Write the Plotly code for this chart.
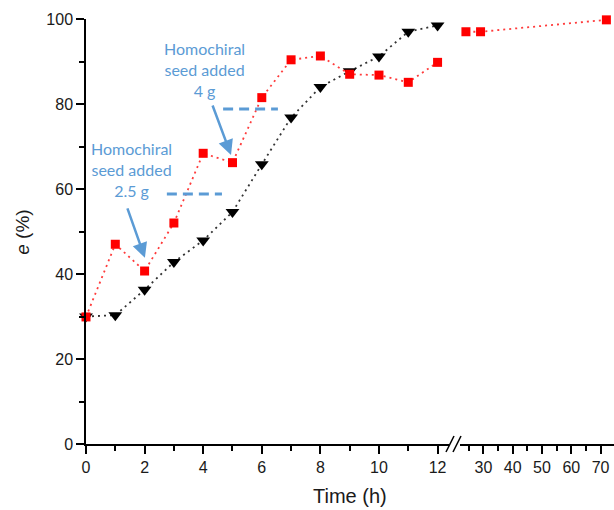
import plotly.graph_objects as go

# ---- data ----
time_short = [0, 1, 2, 3, 4, 5, 6, 7, 8, 9, 10, 11, 12]
black_e = [30.0, 30.3, 36.3, 42.8, 47.9, 54.6, 65.8, 76.8, 84.0, 87.7, 91.2, 97.0, 98.5]

red_time = [0, 1, 2, 3, 4, 5, 6, 7, 8, 9, 10, 11, 12, 24, 29, 72]
red_e = [29.9, 47.0, 40.7, 52.0, 68.4, 66.2, 81.5, 90.4, 91.3, 87.0, 86.8, 85.1, 89.8, 97.0, 97.0, 99.8]

x1_ticks = [0, 2, 4, 6, 8, 10, 12]
x2_ticks = [30, 40, 50, 60, 70]
y_ticks = [0, 20, 40, 60, 80, 100]

BREAK_T = 12  # last point on the first axis segment

BLUE = "#5B9BD5"
AX_FAMILY = "Liberation Sans"
AX_FONT = dict(family=AX_FAMILY, size=16, color="#1a1a1a")
ANN_FONT = dict(family="Lato", size=16, color=BLUE)

# split red series between the two axis segments
red_t1 = [t for t in red_time if t <= BREAK_T]
red_e1 = [e for t, e in zip(red_time, red_e) if t <= BREAK_T]
# second segment carries the last point before the break so the joining line shows
idx_last = max(i for i, t in enumerate(red_time) if t <= BREAK_T)
red_t2 = red_time[idx_last:]
red_e2 = red_e[idx_last:]

fig = go.Figure()

line_red = dict(color="#ff3b3b", width=1.8, dash="2px,4px")
line_blk = dict(color="#333333", width=1.8, dash="2px,4px")

fig.add_trace(go.Scatter(x=time_short, y=black_e, mode="lines+markers",
                         line=line_blk,
                         marker=dict(symbol="triangle-down", size=12, color="black"),
                         xaxis="x", yaxis="y", cliponaxis=False, showlegend=False))
fig.add_trace(go.Scatter(x=red_t1, y=red_e1, mode="lines+markers",
                         line=line_red,
                         marker=dict(symbol="square", size=9, color="#ff0000"),
                         xaxis="x", yaxis="y", cliponaxis=False, showlegend=False))
# second segment: line includes the joining point, markers only for t > break
fig.add_trace(go.Scatter(x=red_t2, y=red_e2, mode="lines",
                         line=line_red, xaxis="x2", yaxis="y", showlegend=False))
fig.add_trace(go.Scatter(x=red_t2[1:], y=red_e2[1:], mode="markers",
                         marker=dict(symbol="square", size=9, color="#ff0000"),
                         xaxis="x2", yaxis="y", cliponaxis=False, showlegend=False))

axis_common = dict(showgrid=False, zeroline=False, showline=True, linecolor="black",
                   linewidth=1.5, ticks="outside", ticklen=8, tickwidth=1.5,
                   tickcolor="black", tickfont=AX_FONT, automargin=False)

fig.update_layout(
    width=614, height=510,
    margin=dict(l=86, r=0, t=19, b=66),
    paper_bgcolor="white", plot_bgcolor="white",
    xaxis=dict(domain=[0, 0.6875], range=[0, 12.39], tickmode="linear", tick0=0, dtick=2,
               minor=dict(dtick=1, ticks="outside", ticklen=5, tickwidth=1.5, tickcolor="black"),
               anchor="y", **axis_common),
    xaxis2=dict(domain=[0.7083, 1], range=[21.97, 74.6], tickmode="linear", tick0=0, dtick=10,
                minor=dict(dtick=5, ticks="outside", ticklen=5, tickwidth=1.5, tickcolor="black"),
                anchor="y", **axis_common),
    yaxis=dict(range=[0, 100], tickmode="linear", tick0=0, dtick=20,
               minor=dict(dtick=10, ticks="outside", ticklen=5, tickwidth=1.5, tickcolor="black"),
               anchor="x", **axis_common),
)

# axis titles
fig.add_annotation(text="Time (h)", xref="paper", yref="paper", x=0.5, y=-0.1224,
                   xanchor="center", yanchor="middle", showarrow=False,
                   font=dict(family=AX_FAMILY, size=20, color="#1a1a1a"))
fig.add_annotation(text="<i>e</i> (%)", xref="paper", yref="paper", x=-0.1193, y=0.497,
                   xanchor="center", yanchor="middle", showarrow=False, textangle=-90,
                   font=dict(family=AX_FAMILY, size=19, color="#1a1a1a"))

# axis break marks
for x0, x1 in [(0.6818, 0.6970), (0.6951, 0.7102)]:
    fig.add_shape(type="line", xref="paper", yref="paper", x0=x0, y0=-0.0188, x1=x1, y1=0.0188,
                  line=dict(color="black", width=1.5))

# seed annotations
fig.add_annotation(text="Homochiral<br>seed added<br>4 g", x=4.03, y=88.2, xref="x", yref="y",
                   showarrow=False, font=ANN_FONT, xanchor="center", yanchor="middle")
fig.add_annotation(text="Homochiral<br>seed added<br>2.5 g", x=1.55, y=64.7, xref="x", yref="y",
                   showarrow=False, font=ANN_FONT, xanchor="center", yanchor="middle")
fig.add_annotation(text="", x=4.95, y=68.0, xref="x", yref="y", ax=-19, ay=-51,
                   showarrow=True, arrowhead=2, arrowsize=1.2, arrowwidth=2.5,
                   arrowcolor=BLUE, standoff=0)
fig.add_annotation(text="", x=2.01, y=43.8, xref="x", yref="y", ax=-18, ay=-51,
                   showarrow=True, arrowhead=2, arrowsize=1.2, arrowwidth=2.5,
                   arrowcolor=BLUE, standoff=0)

# dashed level markers
fig.add_shape(type="line", xref="x", yref="y", x0=4.68, x1=6.55, y0=78.8, y1=78.8,
              line=dict(color=BLUE, width=3, dash="10px,6px"))
fig.add_shape(type="line", xref="x", yref="y", x0=2.76, x1=4.64, y0=58.8, y1=58.8,
              line=dict(color=BLUE, width=3, dash="10px,6px"))

# remove the default page margin so the figure fills the window exactly
fig.write_html("out.html",
               config={"displayModeBar": False},
               post_script="document.body.style.margin='0';document.body.style.overflow='hidden';")
